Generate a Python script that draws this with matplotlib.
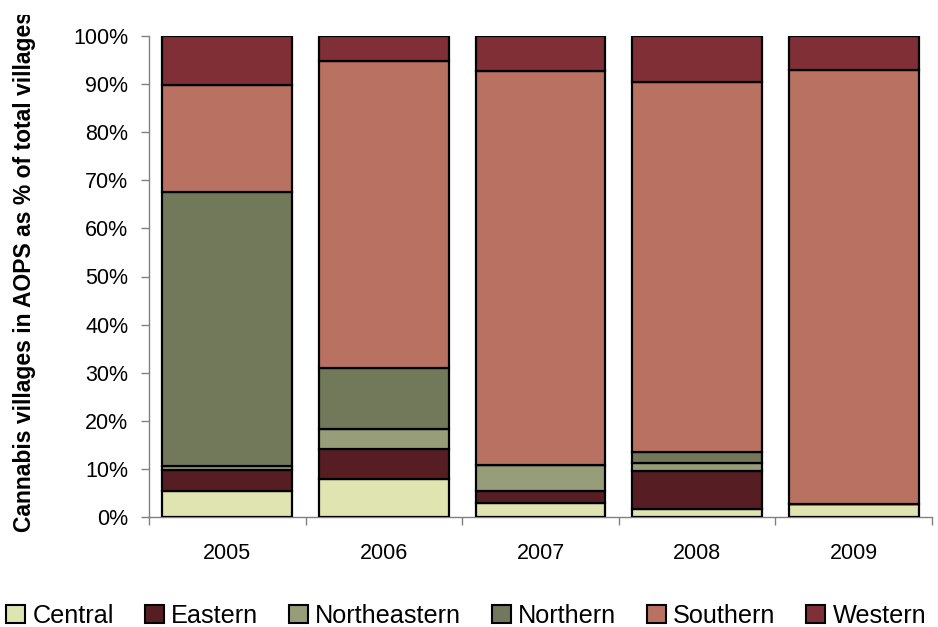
import matplotlib
matplotlib.use("Agg")
import matplotlib.pyplot as plt
from matplotlib.patches import Rectangle
from matplotlib.transforms import Bbox, TransformedBbox
import numpy as np

plt.rcParams['font.family'] = ['Liberation Sans', 'DejaVu Sans']

years = ["2005", "2006", "2007", "2008", "2009"]
regions = ["Central", "Eastern", "Northeastern", "Northern", "Southern", "Western"]

central = [5.5, 7.9, 3.0, 1.6, 2.8]
eastern = [4.3, 6.3, 2.5, 8.0, 0.0]
northeastern = [0.8, 4.0, 5.3, 1.6, 0.0]
northern = [57.0, 12.8, 0.0, 2.4, 0.0]
southern = [22.2, 63.7, 82.0, 76.8, 90.2]
western = [10.2, 5.3, 7.2, 9.6, 7.0]

colors = ["#DFE4B0", "#561E23", "#979D78", "#72785A", "#B97262", "#7F2F35"]

series = [central, eastern, northeastern, northern, southern, western]

fig = plt.figure(figsize=(9.38, 6.27), dpi=100)
ax = fig.add_axes([149/938, 1 - 517/627, (932 - 149)/938, (517 - 36)/627])

x = np.arange(len(years))
bottom = np.zeros(len(years))
for vals, col, name in zip(series, colors, regions):
    v = np.array(vals) / 100.0
    ax.bar(x, v, width=0.83, bottom=bottom, color=col, edgecolor="black",
           linewidth=1.6, label=name, zorder=3)
    bottom += v

ax.set_xlim(-0.5, len(years) - 0.5)
ax.set_ylim(0, 1)
ax.set_yticks(np.arange(0, 1.01, 0.1))
ax.set_yticklabels([f"{int(round(t*100))}%" for t in np.arange(0, 1.01, 0.1)])
ax.set_xticks(x)
ax.set_xticklabels(years)
ax.set_xticks(np.arange(-0.5, len(years)), minor=True)

for s in ["top", "right"]:
    ax.spines[s].set_visible(False)
for s in ["left", "bottom"]:
    ax.spines[s].set_color("#808080")
    ax.spines[s].set_linewidth(1.0)

ax.tick_params(axis="y", which="major", direction="out", length=6, width=1,
               color="#808080", labelsize=15.5, pad=9)
ax.tick_params(axis="x", which="major", length=0, labelsize=15.5, pad=19)
ax.tick_params(axis="x", which="minor", direction="out", length=6, width=1,
               color="#808080")

lab = fig.text(25/938, 1 - 272/627, "Cannabis villages in AOPS as % of total villages",
               rotation=90, ha="center", va="center", fontsize=16.5,
               fontweight="bold")
lab.set_clip_on(True)
lab.set_clip_box(TransformedBbox(Bbox([[0, 0], [1, 1 - 15/627]]), fig.transFigure))

handles = [Rectangle((0, 0), 1, 1, facecolor=c, edgecolor="black", linewidth=1.5)
           for c in colors]
fig.legend(handles, regions, loc="center", bbox_to_anchor=(0.497, 1 - 616/627),
           ncol=6, fontsize=18.2, frameon=False, handlelength=0.75,
           handleheight=0.75, handletextpad=0.3, columnspacing=1.2,
           borderpad=0, borderaxespad=0)

fig.savefig("out.png", dpi=100)
